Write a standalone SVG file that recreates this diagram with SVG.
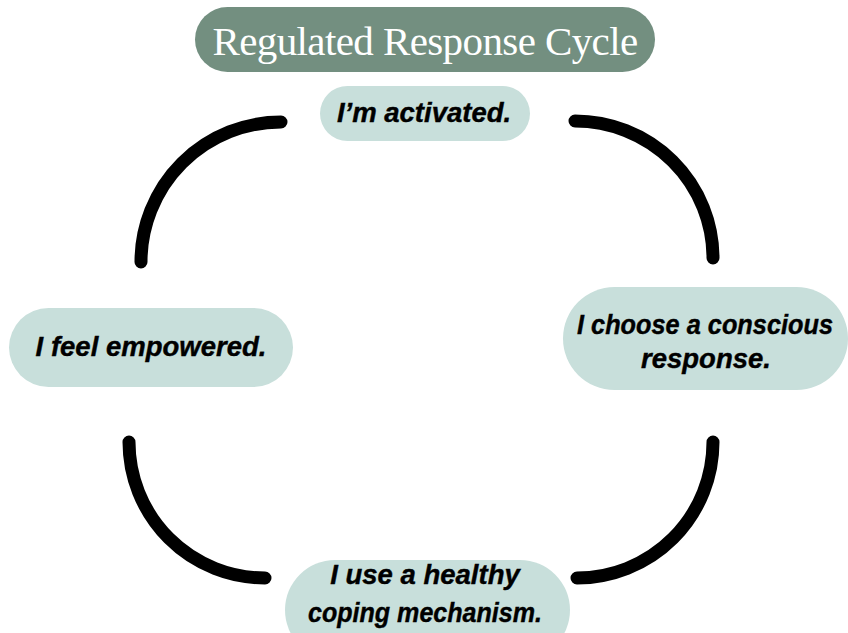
<svg xmlns="http://www.w3.org/2000/svg" width="848" height="633" viewBox="0 0 848 633">
  <style>
    .pill { fill: #c8dfdb; }
    .label { font-family: "Liberation Sans", Arial, sans-serif; font-weight: bold; font-style: italic; font-size: 27.5px; fill: #000; stroke: #000; stroke-width: 0.4; text-anchor: middle; }
    .arc { fill: none; stroke: #000; stroke-width: 13; stroke-linecap: round; }
  </style>
  <rect x="0" y="0" width="848" height="633" fill="#ffffff"/>

  <g id="title">
    <rect x="195" y="7" width="460" height="65" rx="32.5" fill="#738f80"/>
    <text x="425" y="55" font-family="'Liberation Serif', 'DejaVu Serif', serif" font-size="41" fill="#ffffff" text-anchor="middle" letter-spacing="-0.6">Regulated Response Cycle</text>
  </g>

  <g id="connectors">
    <path class="arc" d="M141,262 A140,140 0 0 1 281,122"/>
    <path class="arc" d="M575,121 A138,137 0 0 1 713,258"/>
    <path class="arc" d="M713,442 A136,136 0 0 1 577,578"/>
    <path class="arc" d="M265,578 A136,136 0 0 1 129,442"/>
  </g>

  <g id="node-activated">
    <rect class="pill" x="320" y="86" width="210" height="55" rx="27.5"/>
    <text class="label" x="424" y="122">I’m activated.</text>
  </g>

  <g id="node-choose">
    <rect class="pill" x="563" y="287" width="285" height="103" rx="51.5"/>
    <text class="label" x="705" y="334" font-size="26" textLength="256" lengthAdjust="spacingAndGlyphs">I choose a conscious</text>
    <text class="label" x="706" y="368">response.</text>
  </g>

  <g id="node-coping">
    <rect class="pill" x="285" y="560" width="285" height="100" rx="50"/>
    <text class="label" x="425" y="584">I use a healthy</text>
    <text class="label" x="425" y="622" textLength="234" lengthAdjust="spacingAndGlyphs">coping mechanism.</text>
  </g>

  <g id="node-empowered">
    <rect class="pill" x="9" y="308" width="284" height="79" rx="39.5"/>
    <text class="label" x="151" y="356">I feel empowered.</text>
  </g>
</svg>
